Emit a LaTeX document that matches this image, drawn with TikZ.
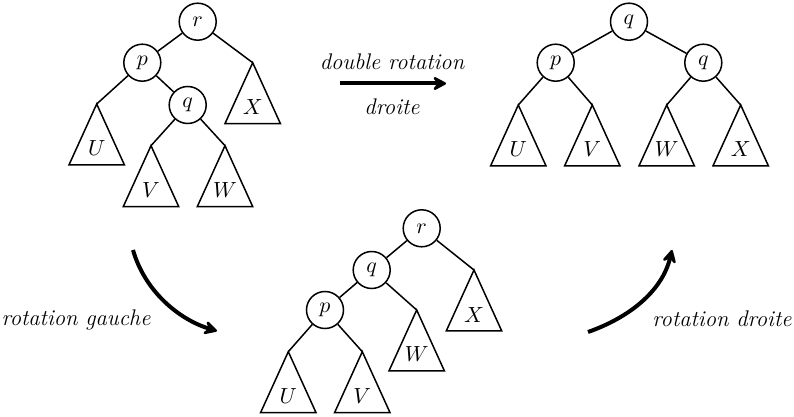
\documentclass[tikz,border=0pt]{standalone}
\usetikzlibrary{calc,arrows.meta}
\begin{document}
\begin{tikzpicture}[x=0.5pt,y=-0.5pt,
  font=\fontsize{11.3}{13}\selectfont,
  vtx/.style={circle,draw,line width=0.75pt,minimum size=18.5pt,inner sep=0pt},
  edge/.style={line width=0.75pt},
  tri/.style={line width=0.75pt},
  tlab/.style={anchor=base,inner sep=0pt},
  bigarrow/.style={line width=2pt,-{Stealth[length=8.5pt,width=9pt,inset=3.5pt,round]}},
  caption/.style={anchor=base,inner sep=0pt}]
\useasboundingbox (0,0) rectangle (794,417);
\newcommand{\subtree}[3]{%
  \coordinate (#1) at (#2);
  \draw[tri] (#1) -- ++(-27.75,61) -- ++(55.5,0) -- cycle;
  \node[tlab] (#1l) at ($(#1)+(0,52)$) {$#3$};}
% top-left tree
\node[vtx] (r1) at (197.7,21.7) {$r$};
\node[vtx] (p1) at (142.3,62.7) {$p$};
\node[vtx] (q1) at (187.7,105) {$q$};
\subtree{U1}{96.7,104}{U}
\subtree{V1}{151,145.7}{V}
\subtree{W1}{225,145.7}{W}
\subtree{X1}{252.7,62.7}{X}
\draw[edge] (r1) -- (p1);
\draw[edge] (r1) -- (X1);
\draw[edge] (p1) -- (U1);
\draw[edge] (p1) -- (q1);
\draw[edge] (q1) -- (V1);
\draw[edge] (q1) -- (W1);
% top-right tree
\node[vtx] (q2) at (629,21.7) {$q$};
\node[vtx] (p2) at (555.7,62.7) {$p$};
\node[vtx] (r2) at (703.3,62.7) {$q$};
\subtree{U2}{518.3,105}{U}
\subtree{V2}{592.3,105}{V}
\subtree{W2}{666.7,105}{W}
\subtree{X2}{740.7,105}{X}
\draw[edge] (q2) -- (p2);
\draw[edge] (q2) -- (r2);
\draw[edge] (p2) -- (U2);
\draw[edge] (p2) -- (V2);
\draw[edge] (r2) -- (W2);
\draw[edge] (r2) -- (X2);
% bottom tree
\node[vtx] (r3) at (421.7,228.3) {$r$};
\node[vtx] (q3) at (371.7,270) {$q$};
\node[vtx] (p3) at (325,310) {$p$};
\subtree{X3}{474,270}{X}
\subtree{W3}{416.7,310}{W}
\subtree{U3}{288.3,351.7}{U}
\subtree{V3}{362.3,351.7}{V}
\draw[edge] (r3) -- (q3);
\draw[edge] (r3) -- (X3);
\draw[edge] (q3) -- (p3);
\draw[edge] (q3) -- (W3);
\draw[edge] (p3) -- (U3);
\draw[edge] (p3) -- (V3);
% arrows
\coordinate (a1s) at (340,83.5);
\coordinate (a1e) at (446,83.5);
\draw[bigarrow] (a1s) -- (a1e);
\node[caption] (t1) at (392,70) {\itshape double rotation};
\node[caption] (t2) at (392,115) {\itshape droite};
\coordinate (a2s) at (133,250);
\coordinate (a2e) at (217,331);
\draw[bigarrow] (a2s) .. controls (145,292) and (180,320) .. (a2e);
\node[caption] (t3) at (76,326) {\itshape rotation gauche};
\coordinate (a3s) at (588,332);
\coordinate (a3e) at (672,250);
\draw[bigarrow] (a3s) .. controls (628,318) and (662,292) .. (a3e);
\node[caption] (t4) at (722,327) {\itshape rotation droite};
\end{tikzpicture}
\end{document}
